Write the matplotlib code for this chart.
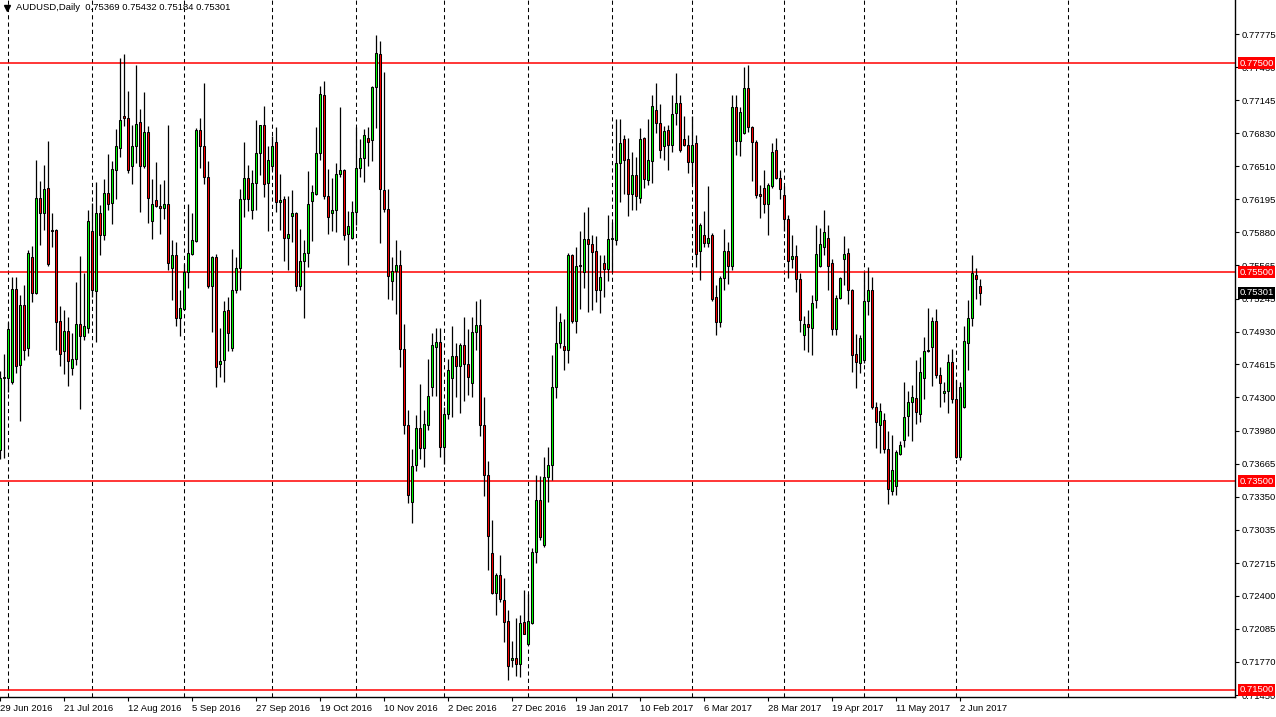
import numpy as np
import matplotlib
matplotlib.use("Agg")
import matplotlib.pyplot as plt
import matplotlib.transforms as mtransforms

plt.rcParams['font.family'] = ['Liberation Sans', 'DejaVu Sans']

# daily AUDUSD candles, 29 Jun 2016 .. 9 Jun 2017 (one entry per bar)
opens = [
    .7380, .7449, .7449, .7445, .7534, .7461, .7518, .7477, .7564, .7530,
    .7621, .7606, .7630, .7590, .7590, .7503, .7474, .7494, .7458, .7467,
    .7500, .7489, .7496, .7589, .7532, .7606, .7585, .7626, .7616, .7648,
    .7669, .7699, .7697, .7651, .7671, .7694, .7651, .7684, .7599, .7619,
    .7613, .7611, .7615, .7554, .7566, .7506, .7515, .7550, .7567, .7580,
    .7686, .7671, .7641, .7537, .7564, .7462, .7466, .7514, .7477, .7533,
    .7554, .7620, .7640, .7609, .7635, .7664, .7691, .7635, .7651, .7674,
    .7617, .7620, .7583, .7604, .7606, .7537, .7561, .7568, .7618, .7625,
    .7664, .7719, .7623, .7606, .7609, .7644, .7648, .7586, .7583, .7607,
    .7650, .7659, .7678, .7676, .7727, .7759, .7628, .7610, .7541, .7551,
    .7557, .7476, .7404, .7330, .7365, .7401, .7382, .7404, .7440, .7478,
    .7483, .7383, .7414, .7449, .7470, .7460, .7480, .7462, .7444, .7493,
    .7499, .7404, .7356, .7281, .7243, .7260, .7236, .7216, .7179, .7181,
    .7175, .7215, .7194, .7214, .7282, .7332, .7289, .7354, .7365, .7440,
    .7482, .7479, .7475, .7566, .7503, .7557, .7550, .7582, .7577, .7570,
    .7533, .7559, .7553, .7582, .7581, .7654, .7677, .7658, .7625, .7643,
    .7621, .7678, .7638, .7656, .7705, .7693, .7671, .7686, .7672, .7702,
    .7712, .7677, .7672, .7655, .7673, .7570, .7585, .7578, .7585, .7526,
    .7502, .7544, .7570, .7556, .7708, .7675, .7683, .7726, .7689, .7674,
    .7625, .7630, .7615, .7632, .7667, .7640, .7624, .7601, .7562, .7565,
    .7543, .7490, .7500, .7496, .7523, .7556, .7574, .7583, .7559, .7495,
    .7525, .7562, .7568, .7533, .7472, .7463, .7466, .7522, .7533, .7421,
    .7404, .7408, .7381, .7340, .7345, .7376, .7389, .7412, .7426, .7429,
    .7414, .7449, .7474, .7478, .7503, .7451, .7434, .7436, .7464, .7428,
    .7373, .7421, .7482, .7506, .7547, .75369]
highs = [
    .7455, .7472, .7502, .7545, .7545, .7528, .7538, .7571, .7575, .7657,
    .7637, .7652, .7675, .7606, .7591, .7517, .7514, .7507, .7492, .7540,
    .7565, .7549, .7609, .7616, .7636, .7614, .7639, .7663, .7656, .7687,
    .7755, .7759, .7723, .7691, .7748, .7706, .7722, .7690, .7639, .7655,
    .7634, .7638, .7691, .7581, .7579, .7533, .7558, .7615, .7606, .7688,
    .7697, .7731, .7656, .7565, .7567, .7496, .7522, .7526, .7572, .7564,
    .7629, .7674, .7652, .7648, .7695, .7691, .7709, .7671, .7680, .7689,
    .7644, .7623, .7623, .7628, .7607, .7591, .7581, .7647, .7633, .7689,
    .7728, .7733, .7649, .7640, .7654, .7708, .7649, .7608, .7618, .7689,
    .7677, .7687, .7689, .7728, .7777, .7771, .7741, .7629, .7564, .7581,
    .7571, .7500, .7418, .7381, .7413, .7443, .7418, .7467, .7492, .7496,
    .7496, .7421, .7467, .7498, .7482, .7482, .7507, .7495, .7507, .7522,
    .7524, .7430, .7369, .7313, .7262, .7279, .7257, .7227, .7197, .7219,
    .7222, .7246, .7242, .7286, .7356, .7355, .7373, .7383, .7471, .7517,
    .7511, .7505, .7568, .7567, .7574, .7589, .7607, .7612, .7585, .7584,
    .7566, .7566, .7605, .7598, .7696, .7696, .7681, .7678, .7665, .7660,
    .7688, .7679, .7696, .7719, .7731, .7711, .7690, .7691, .7719, .7740,
    .7719, .7699, .7681, .7699, .7681, .7597, .7608, .7632, .7587, .7538,
    .7546, .7591, .7579, .7719, .7719, .7708, .7746, .7748, .7690, .7676,
    .7633, .7648, .7635, .7673, .7678, .7648, .7632, .7605, .7585, .7576,
    .7549, .7508, .7514, .7528, .7595, .7592, .7609, .7595, .7562, .7528,
    .7545, .7584, .7573, .7534, .7491, .7490, .7550, .7555, .7545, .7426,
    .7425, .7415, .7398, .7394, .7380, .7388, .7445, .7436, .7442, .7466,
    .7469, .7488, .7516, .7507, .7515, .7459, .7445, .7472, .7476, .7447,
    .7445, .7498, .7523, .7566, .7554, .75432]
lows = [
    .7371, .7372, .7435, .7443, .7453, .7407, .7466, .7470, .7521, .7529,
    .7576, .7590, .7556, .7574, .7475, .7460, .7452, .7441, .7451, .7461,
    .7419, .7485, .7492, .7526, .7483, .7566, .7581, .7609, .7596, .7620,
    .7660, .7690, .7645, .7634, .7654, .7607, .7650, .7597, .7582, .7612,
    .7586, .7601, .7552, .7523, .7498, .7489, .7514, .7535, .7566, .7579,
    .7650, .7634, .7535, .7493, .7440, .7450, .7445, .7474, .7474, .7530,
    .7533, .7603, .7608, .7601, .7609, .7643, .7622, .7589, .7648, .7607,
    .7590, .7561, .7552, .7579, .7532, .7533, .7506, .7555, .7580, .7624,
    .7657, .7620, .7586, .7589, .7588, .7641, .7581, .7557, .7582, .7595,
    .7641, .7636, .7651, .7656, .7688, .7578, .7607, .7524, .7523, .7510,
    .7459, .7395, .7329, .7310, .7360, .7371, .7363, .7399, .7431, .7431,
    .7373, .7366, .7409, .7411, .7430, .7415, .7427, .7432, .7430, .7475,
    .7393, .7336, .7265, .7242, .7222, .7234, .7196, .7160, .7172, .7163,
    .7162, .7204, .7193, .7213, .7272, .7294, .7287, .7330, .7351, .7429,
    .7477, .7456, .7463, .7501, .7492, .7515, .7535, .7512, .7514, .7521,
    .7511, .7526, .7541, .7550, .7576, .7617, .7625, .7604, .7609, .7609,
    .7616, .7630, .7633, .7635, .7683, .7659, .7657, .7648, .7665, .7691,
    .7665, .7671, .7645, .7635, .7555, .7542, .7574, .7574, .7522, .7490,
    .7497, .7533, .7539, .7552, .7662, .7661, .7682, .7684, .7637, .7621,
    .7602, .7606, .7585, .7630, .7639, .7620, .7589, .7544, .7554, .7531,
    .7493, .7475, .7473, .7471, .7516, .7555, .7566, .7533, .7490, .7490,
    .7524, .7538, .7519, .7454, .7439, .7453, .7463, .7509, .7419, .7382,
    .7377, .7377, .7328, .7337, .7337, .7375, .7383, .7393, .7388, .7405,
    .7406, .7428, .7473, .7441, .7449, .7421, .7426, .7415, .7425, .7372,
    .7370, .7420, .7456, .7498, .7524, .75184]
closes = [
    .7449, .7450, .7495, .7534, .7460, .7518, .7475, .7568, .7530, .7621,
    .7606, .7629, .7558, .7589, .7502, .7472, .7494, .7465, .7467, .7500,
    .7489, .7498, .7599, .7533, .7606, .7585, .7626, .7615, .7649, .7671,
    .7695, .7697, .7648, .7671, .7692, .7651, .7684, .7621, .7615, .7613,
    .7611, .7615, .7559, .7566, .7506, .7516, .7550, .7568, .7581, .7686,
    .7671, .7641, .7537, .7564, .7459, .7465, .7513, .7492, .7533, .7554,
    .7620, .7640, .7620, .7635, .7664, .7691, .7634, .7657, .7671, .7617,
    .7619, .7583, .7586, .7606, .7537, .7561, .7568, .7615, .7627, .7664,
    .7720, .7623, .7603, .7609, .7644, .7648, .7585, .7594, .7607, .7650,
    .7659, .7681, .7674, .7727, .7760, .7629, .7610, .7546, .7551, .7557,
    .7476, .7404, .7337, .7364, .7401, .7382, .7405, .7431, .7480, .7483,
    .7383, .7414, .7456, .7470, .7460, .7480, .7462, .7450, .7493, .7499,
    .7404, .7356, .7297, .7243, .7260, .7237, .7215, .7173, .7181, .7175,
    .7214, .7204, .7216, .7282, .7332, .7296, .7354, .7365, .7440, .7482,
    .7502, .7475, .7566, .7503, .7556, .7556, .7582, .7577, .7569, .7533,
    .7545, .7553, .7582, .7583, .7654, .7673, .7657, .7625, .7643, .7623,
    .7677, .7639, .7657, .7709, .7693, .7667, .7685, .7672, .7701, .7712,
    .7667, .7672, .7655, .7672, .7567, .7595, .7578, .7583, .7524, .7502,
    .7544, .7570, .7556, .7708, .7675, .7703, .7726, .7689, .7674, .7624,
    .7623, .7615, .7633, .7665, .7640, .7629, .7601, .7561, .7565, .7543,
    .7504, .7500, .7497, .7520, .7567, .7577, .7588, .7556, .7495, .7525,
    .7544, .7567, .7533, .7471, .7464, .7487, .7522, .7533, .7421, .7406,
    .7417, .7381, .7342, .7361, .7378, .7384, .7411, .7426, .7430, .7416,
    .7454, .7474, .7475, .7503, .7451, .7444, .7436, .7464, .7428, .7373,
    .7440, .7484, .7506, .7549, .7543, .75301]

date_labels = ['29 Jun 2016', '21 Jul 2016', '12 Aug 2016', '5 Sep 2016', '27 Sep 2016',
               '19 Oct 2016', '10 Nov 2016', '2 Dec 2016', '27 Dec 2016', '19 Jan 2017',
               '10 Feb 2017', '6 Mar 2017', '28 Mar 2017', '19 Apr 2017', '11 May 2017',
               '2 Jun 2017']
date_bars = list(range(0, 241, 16))
month_start_bars = [2, 23, 46, 68, 89, 111, 132, 153, 173, 196, 216, 239, 267]
price_ticks = [0.77775, 0.77460, 0.77145, 0.76830, 0.76510, 0.76195, 0.75880, 0.75565,
               0.75245, 0.74930, 0.74615, 0.74300, 0.73980, 0.73665, 0.73350, 0.73035,
               0.72715, 0.72400, 0.72085, 0.71770, 0.71450]
levels = [0.775, 0.755, 0.735, 0.715]

o = np.array(opens)
h = np.array(highs)
l = np.array(lows)
c = np.array(closes)
x = np.arange(len(o))

W, H = 1276, 717
fig = plt.figure(figsize=(W / 100, H / 100), dpi=100)
ax = fig.add_axes([0, 20 / H, 1235 / W, 697 / H])

for xb in month_start_bars:
    ax.axvline(xb, color='black', lw=0.75, ls=(0, (4, 3)), zorder=1)
for lv in levels:
    ax.axhline(lv, color='#FF0000', lw=1.1, zorder=1.5)

ax.vlines(x, l, h, color='black', lw=0.9, zorder=2)
up = c >= o
cols = np.where(c > o, '#00FF00', '#FF0000')
ax.bar(x, np.abs(c - o), bottom=np.minimum(o, c), width=0.5, color=cols,
       edgecolor='black', linewidth=0.75, zorder=3)

ax.set_xlim(-0.08, 308.7)
ax.set_ylim(0.71433, 0.78103)

for s in ['top', 'left']:
    ax.spines[s].set_visible(False)
for s in ['right', 'bottom']:
    ax.spines[s].set_color('black')
    ax.spines[s].set_linewidth(1)

ax.yaxis.tick_right()
ax.set_yticks(price_ticks)
ax.set_yticklabels([f"{v:.5f}" for v in price_ticks])
ax.tick_params(axis='y', length=3, width=0.8, pad=2, labelsize=6.8, colors='black')
ax.set_xticks(date_bars)
ax.set_xticklabels(date_labels)
ax.tick_params(axis='x', length=3, width=0.8, pad=2, labelsize=6.8)
for t in ax.get_xticklabels():
    t.set_ha('left')

trans = mtransforms.blended_transform_factory(ax.transAxes, ax.transData)
for lv in levels:
    ax.text(1.0035, lv, f"{lv:.5f}", transform=trans, ha='left', va='center',
            fontsize=6.8, color='white', clip_on=False, zorder=10,
            bbox=dict(boxstyle='square,pad=0.18', fc='#FF0000', ec='none'))
ax.text(1.0035, c[-1], f"{c[-1]:.5f}", transform=trans, ha='left', va='center',
        fontsize=6.8, color='white', clip_on=False, zorder=10,
        bbox=dict(boxstyle='square,pad=0.18', fc='black', ec='none'))

title = f"AUDUSD,Daily  {o[-1]:.5f} {h[-1]:.5f} {l[-1]:.5f} {c[-1]:.5f}"
ax.text(16 / 1235, 1 - 8 / 697, title, transform=ax.transAxes, ha='left', va='center',
        fontsize=6.8, color='black')
ax.plot([7 / 1235], [1 - 8 / 697], marker='v', ms=4, color='black',
        transform=ax.transAxes, clip_on=False)

fig.savefig('out.png', dpi=100)
